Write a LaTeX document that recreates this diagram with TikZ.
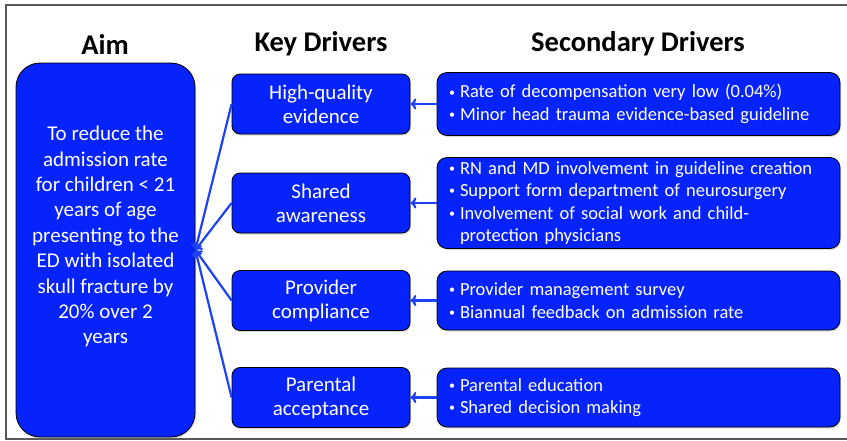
\documentclass[tikz,border=0pt]{standalone}
\usepackage{fontspec}
\setmainfont{Carlito}
\usetikzlibrary{arrows, arrows.meta, positioning, shadows}
\definecolor{drvblue}{RGB}{5,35,250}
\definecolor{arrblue}{RGB}{30,65,245}
\newcommand{\itm}{\makebox[11pt][l]{\raisebox{1.8pt}{\fontsize{12}{12}\selectfont\textbullet}}}
\newcommand{\cont}{\makebox[11pt]{}}

\begin{document}
\begin{tikzpicture}[x=1pt,y=-1pt,node distance=97pt,on grid,
        box/.style={draw=black, fill=drvblue, text=white, line width=0.8pt,
            drop shadow={opacity=0.3, shadow xshift=1pt, shadow yshift=-1.5pt}},
        aimbox/.style={box, rounded corners=24pt, minimum width=179pt, minimum height=374pt,
            align=center, text depth=30pt, font=\fontsize{21}{25.4}\selectfont},
        keybox/.style={box, rounded corners=8pt, minimum width=178pt, minimum height=60pt,
            align=center, font=\fontsize{21}{24}\selectfont},
        secbox/.style={box, rounded corners=10pt, inner xsep=12pt, text width=379pt,
            align=left, font=\fontsize{18.5}{22.5}\selectfont},
        head/.style={font=\fontsize{28.5}{32}\selectfont\bfseries},
        link/.style={-{To[length=6pt,width=11pt]}, draw=arrblue, line width=2.2pt}]
        \useasboundingbox (0,0) rectangle (847,440);
        \draw[black!65, line width=1.5pt] (847,5) -- (6,5) -- (6,439) -- (847,439);

        \node[head]     (aimhead)                       at (105,44)     {Aim};
        \node[head]     (keyhead)                       at (321,44)     {Key Drivers};
        \node[head]     (sechead)                       at (638,44)     {Secondary Drivers};

        \node[aimbox]   (aim)                           at (105.5,250)  {To reduce the\\ admission rate\\ for children < 21\\ years of age\\ presenting to the\\ ED with isolated\\ skull fracture by\\ 20\% over 2\\ years};

        \node[keybox]   (k1)                            at (321,104)    {High-quality\\ evidence};
        \node[keybox]   (k2)    [below=99pt of k1]                      {Shared\\ awareness};
        \node[keybox]   (k3)    [below=97.5pt of k2]                    {Provider\\ compliance};
        \node[keybox]   (k4)    [below=97pt of k3]                      {Parental\\ acceptance};

        \node[secbox, minimum height=63pt]  (s1)    [right=317.5pt of k1]   {\itm Rate of decompensation very low (0.04\%)\\ \itm Minor head trauma evidence-based guideline};
        \node[secbox, minimum height=91pt]  (s2)    [right=317.5pt of k2]   {\itm RN and MD involvement in guideline creation\\ \itm Support form department of neurosurgery\\ \itm Involvement of social work and child-\\ \cont protection physicians};
        \node[secbox, minimum height=59pt]  (s3)    [right=317.5pt of k3]   {\itm Provider management survey\\ \itm Biannual feedback on admission rate};
        \node[secbox, minimum height=59pt]  (s4)    [right=317.5pt of k4]   {\itm Parental education\\ \itm Shared decision making};

        \foreach \i in {1,...,4} {
            \draw[link] (k\i.west) -- (aim.east);
            \draw[link] (s\i.west) -- (s\i.west -| k\i.east);
        }
    \end{tikzpicture}
\end{document}
